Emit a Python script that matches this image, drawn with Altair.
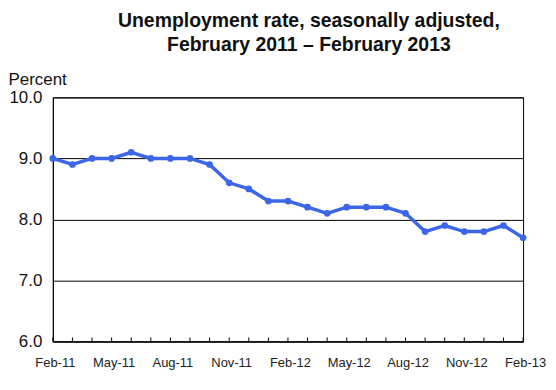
import altair as alt
import pandas as pd

months = ["Feb-11","Mar-11","Apr-11","May-11","Jun-11","Jul-11","Aug-11","Sep-11","Oct-11","Nov-11","Dec-11",
          "Jan-12","Feb-12","Mar-12","Apr-12","May-12","Jun-12","Jul-12","Aug-12","Sep-12","Oct-12","Nov-12","Dec-12",
          "Jan-13","Feb-13"]
rates = [9.0, 8.9, 9.0, 9.0, 9.1, 9.0, 9.0, 9.0, 8.9, 8.6, 8.5,
         8.3, 8.3, 8.2, 8.1, 8.2, 8.2, 8.2, 8.1, 7.8, 7.9, 7.8, 7.8,
         7.9, 7.7]
label_months = ["Feb-11","May-11","Aug-11","Nov-11","Feb-12","May-12","Aug-12","Nov-12","Feb-13"]
y_ticks = [6, 7, 8, 9, 10]
title_line1 = "Unemployment rate, seasonally adjusted,"
title_line2 = "February 2011 \u2013 February 2013"

df = pd.DataFrame({"month": months, "rate": rates})

FONT = "Liberation Sans"
BLUE = "#3B66E8"

x_enc = alt.X("month:N", sort=months,
              scale=alt.Scale(type="point", padding=0),
              axis=alt.Axis(values=label_months, title=None, ticks=False, domain=True,
                            domainColor="black", labelFont=FONT, labelFontSize=13,
                            labelColor="#222222", labelPadding=15, labelAngle=0,
                            labelAlign="center", labelBaseline="top", labelOffset=2,
                            labelOverlap=False, grid=False))
y_enc = alt.Y("rate:Q", scale=alt.Scale(domain=[6, 10], nice=False, zero=False),
              axis=alt.Axis(values=y_ticks, format=".1f", title="Percent", titleAngle=0,
                            titleAlign="left", titleBaseline="alphabetic", titleX=-45, titleY=-13,
                            titleFont=FONT, titleFontSize=17, titleFontWeight="normal",
                            titleColor="#111111",
                            labelFont=FONT, labelFontSize=17, labelColor="#111111",
                            labelPadding=11, ticks=False, domain=True, domainColor="black",
                            grid=True, gridColor="black", gridOpacity=1, gridWidth=1))

line = alt.Chart(df).mark_line(color=BLUE, strokeWidth=3.5).encode(x=x_enc, y=y_enc)
pts = alt.Chart(df).mark_circle(color=BLUE, opacity=1, size=45).encode(
    x=alt.X("month:N", sort=months), y="rate:Q")
ticks = alt.Chart(df).mark_rule(color="black", strokeWidth=1).encode(
    x=alt.X("month:N", sort=months), y=alt.value(245), y2=alt.value(241))

chart = alt.layer(line, pts, ticks).properties(
    width=472, height=245,
    autosize=alt.AutoSizeParams(type="none"),
    padding={"left": 45, "top": 89, "right": 25, "bottom": 40},
    title=alt.TitleParams(title_line1, subtitle=title_line2,
                          font=FONT, fontSize=19.5, fontWeight="bold", color="#111111",
                          subtitleFont=FONT, subtitleFontSize=19.5, subtitleFontWeight="bold",
                          subtitleColor="#111111", subtitlePadding=4.5,
                          anchor="middle", frame="group", offset=15, dx=21)
).configure_view(stroke="black", strokeWidth=1)

chart.save("out.html", embed_options={"renderer": "svg", "actions": False})
